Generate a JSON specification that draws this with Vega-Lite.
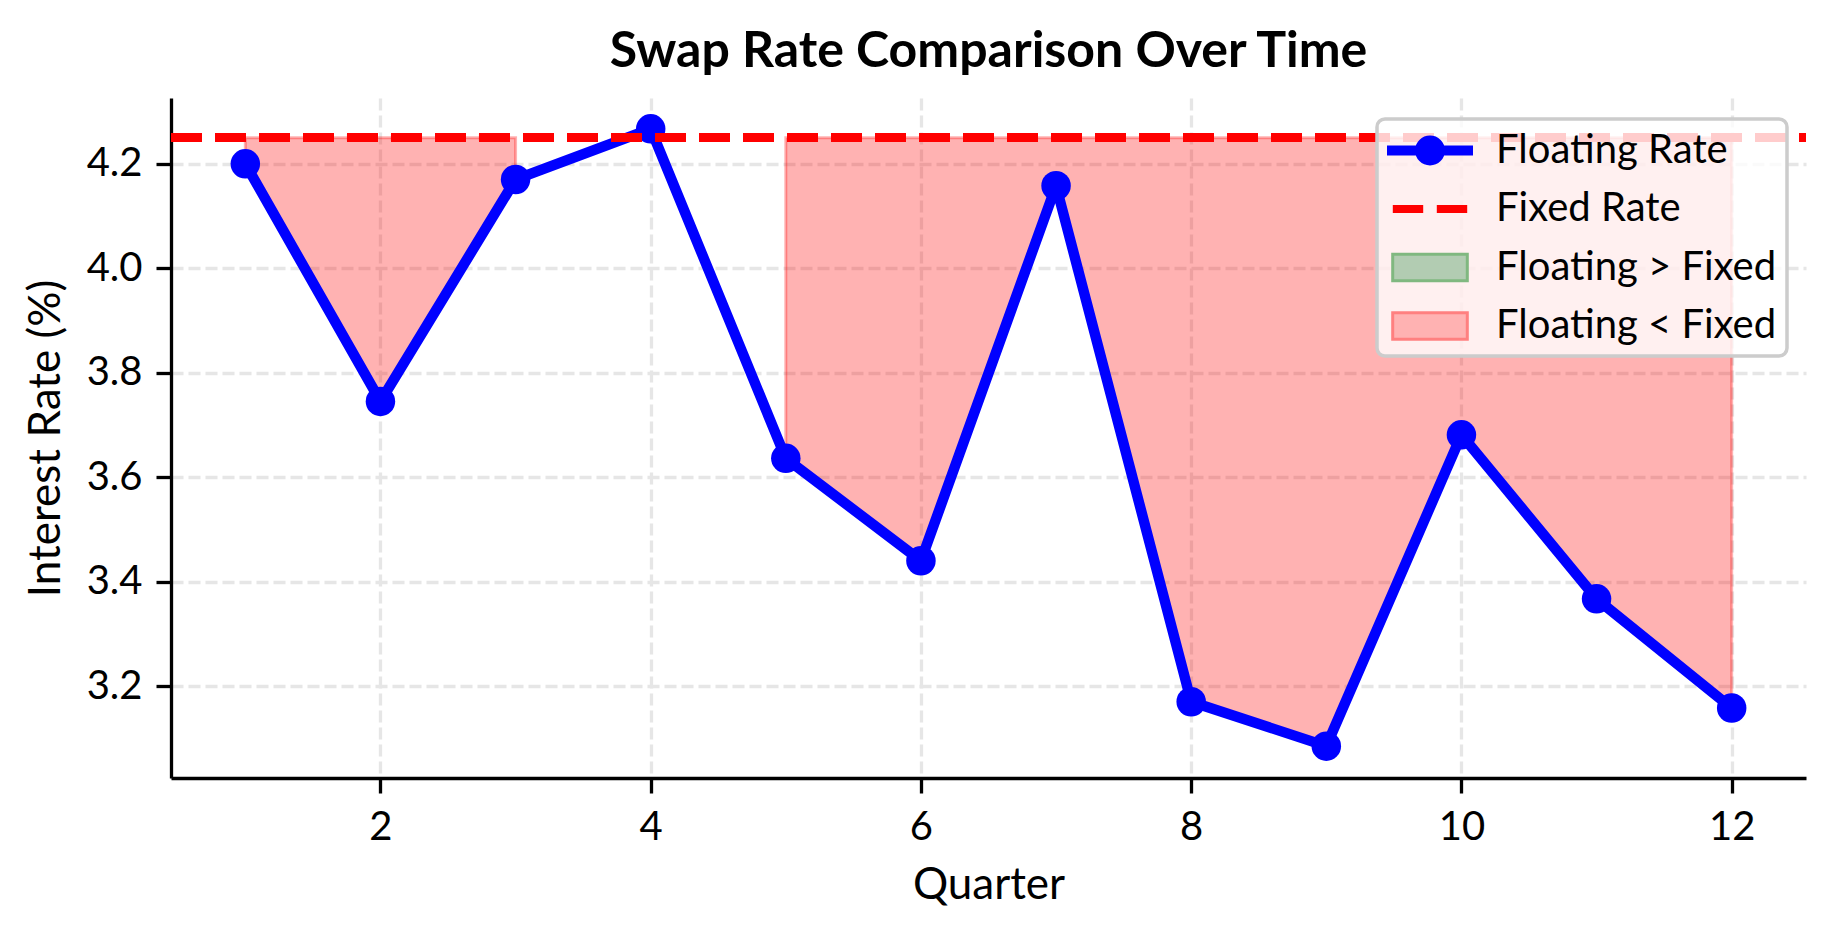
{
  "$schema": "https://vega.github.io/schema/vega-lite/v6.json",
  "autosize": "none",
  "width": 1635,
  "height": 680,
  "padding": {"left": 171, "top": 98, "right": 28, "bottom": 156},
  "background": "white",
  "title": {
    "text": "Swap Rate Comparison Over Time",
    "font": "Lato", "fontSize": 50, "fontWeight": "bold", "color": "black",
    "anchor": "middle", "baseline": "alphabetic", "frame": "group", "offset": 31, "dy": 50
  },
  "data": {
    "values": [
      {"quarter": 1, "rate": 4.200, "seg": "A"},
      {"quarter": 2, "rate": 3.745, "seg": "A"},
      {"quarter": 3, "rate": 4.170, "seg": "A"},
      {"quarter": 4, "rate": 4.267, "seg": null},
      {"quarter": 5, "rate": 3.636, "seg": "B"},
      {"quarter": 6, "rate": 3.440, "seg": "B"},
      {"quarter": 7, "rate": 4.158, "seg": "B"},
      {"quarter": 8, "rate": 3.170, "seg": "B"},
      {"quarter": 9, "rate": 3.085, "seg": "B"},
      {"quarter": 10, "rate": 3.681, "seg": "B"},
      {"quarter": 11, "rate": 3.367, "seg": "B"},
      {"quarter": 12, "rate": 3.158, "seg": "B"}
    ]
  },
  "encoding": {
    "x": {
      "field": "quarter", "type": "quantitative",
      "scale": {"domain": [0.45, 12.55], "nice": false, "zero": false},
      "axis": {"values": [2, 4, 6, 8, 10, 12], "format": "d", "title": "Quarter", "titlePadding": 16, "labelFlush": false}
    },
    "y": {
      "field": "rate", "type": "quantitative",
      "scale": {"domain": [3.024, 4.326], "nice": false, "zero": false},
      "axis": {"values": [3.2, 3.4, 3.6, 3.8, 4.0, 4.2], "format": ".1f", "title": "Interest Rate (%)", "titlePadding": 18, "labelFlush": false}
    }
  },
  "layer": [
    {
      "transform": [{"filter": "datum.seg != null"}],
      "mark": {"type": "area", "color": "red", "fillOpacity": 0.3, "stroke": "red", "strokeOpacity": 0.3, "strokeWidth": 3},
      "encoding": {
        "y2": {"datum": 4.25},
        "detail": {"field": "seg", "type": "nominal"}
      }
    },
    {
      "mark": {"type": "line", "color": "blue", "strokeWidth": 10.4, "strokeJoin": "round"}
    },
    {
      "mark": {"type": "point", "filled": true, "color": "blue", "size": 870, "opacity": 1}
    },
    {
      "mark": {"type": "rule", "color": "red", "strokeWidth": 8.3, "strokeDash": [31, 13]},
      "encoding": {
        "x": {"value": 0},
        "x2": {"value": 1635},
        "y": {"datum": 4.25}
      }
    },
    {
      "data": {
        "values": [
          {"series": "Floating Rate"},
          {"series": "Fixed Rate"},
          {"series": "Floating > Fixed"},
          {"series": "Floating < Fixed"}
        ]
      },
      "transform": [{"filter": "false"}],
      "mark": {"type": "point", "filled": true, "opacity": 1, "strokeWidth": 3},
      "encoding": {
        "x": {"value": 0},
        "y": {"value": 0},
        "fill": {
          "field": "series", "type": "nominal",
          "scale": {
            "domain": ["Floating Rate", "Fixed Rate", "Floating > Fixed", "Floating < Fixed"],
            "range": ["blue", "red", "#b2ccb2", "#ffb2b2"]
          },
          "legend": {
            "title": null,
            "orient": "none",
            "legendX": 1206,
            "legendY": 21,
            "padding": 10,
            "cornerRadius": 8,
            "fillColor": "rgba(255,255,255,0.8)",
            "strokeColor": "#cccccc",
            "labelFont": "Lato",
            "labelFontSize": 40,
            "labelColor": "black",
            "labelLimit": 0,
            "labelOffset": 66,
            "rowPadding": 16.5,
            "symbolSize": 1600,
            "symbolStrokeWidth": 3,
            "symbolOpacity": 1
          }
        },
        "stroke": {
          "field": "series", "type": "nominal",
          "scale": {
            "domain": ["Floating Rate", "Fixed Rate", "Floating > Fixed", "Floating < Fixed"],
            "range": ["blue", "red", "#80b880", "#ff8080"]
          }
        },
        "shape": {
          "field": "series", "type": "nominal",
          "scale": {
            "domain": ["Floating Rate", "Fixed Rate", "Floating > Fixed", "Floating < Fixed"],
            "range": [
              "M-1,-0.175H3.15V0.175H-1Z M1.75,0A0.675,0.675,0,1,1,0.4,0A0.675,0.675,0,1,1,1.75,0Z",
              "M-0.71,-0.125H0.66V0.125H-0.71Z M1.49,-0.125H2.86V0.125H1.49Z",
              "M-0.79,-0.665H2.94V0.665H-0.79Z",
              "M-0.79,-0.665H2.94V0.665H-0.79Z"
            ]
          }
        }
      }
    }
  ],
  "config": {
    "view": {"stroke": null},
    "font": "Lato",
    "axis": {
      "domainColor": "black", "domainWidth": 3.3,
      "tickColor": "black", "tickWidth": 3.3, "tickSize": 15,
      "labelFont": "Lato", "labelFontSize": 40, "labelColor": "black", "labelPadding": 14,
      "titleFont": "Lato", "titleFontSize": 44, "titleFontWeight": "normal", "titleColor": "black",
      "gridColor": "#e6e6e6", "gridWidth": 3.3, "gridDash": [12, 5]
    },
    "legend": {"strokeWidth": 3.5}
  }
}
